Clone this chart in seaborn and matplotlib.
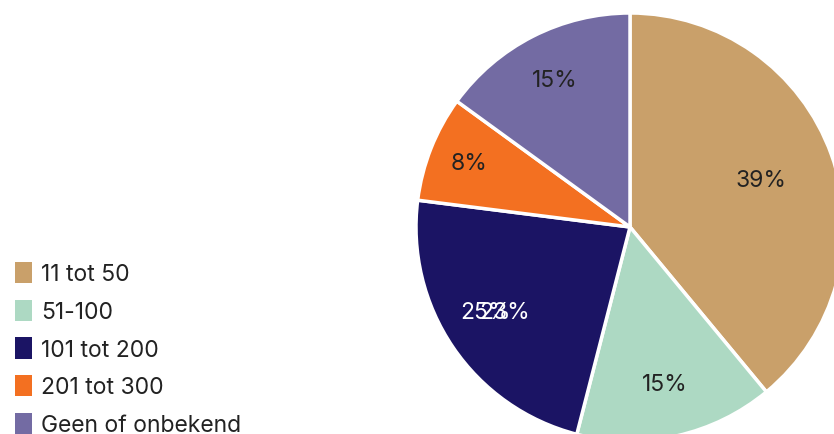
import matplotlib
matplotlib.use("Agg")
import matplotlib.pyplot as plt
import seaborn as sns
import numpy as np

sns.set_style("white")
plt.rcParams["font.family"] = ["Inter", "DejaVu Sans"]

# --- DATA ---
categories = ["11 tot 50", "51-100", "101 tot 200", "201 tot 300", "Geen of onbekend"]
shares = [39, 15, 23, 8, 15]
pct_labels = ["39%", "15%", "23%", "8%", "15%"]
extra_label = "25%"  # stray overlapping label in the navy slice

palette = sns.color_palette(["#C9A06A", "#ADD9C3", "#1B1464", "#F37021", "#736BA3"])
text_colors = ["#222222", "#222222", "white", "#222222", "#222222"]
label_dist = [0.65, 0.75, 0.71, 0.81, 0.77]

FS = 16.5

# --- PLOT ---
fig = plt.figure(figsize=(8.34, 4.35), dpi=100)
ax = fig.add_axes([0, 0, 1, 1])

wedges, _ = ax.pie(shares, colors=palette, startangle=90, counterclock=False,
                   wedgeprops=dict(edgecolor="white", linewidth=2.5))

for w, lab, col, d in zip(wedges, pct_labels, text_colors, label_dist):
    mid = np.deg2rad((w.theta1 + w.theta2) / 2)
    x, y = d * np.cos(mid), d * np.sin(mid)
    ax.text(x, y, lab, ha="center", va="center", fontsize=FS, color=col)
    if lab == "23%":
        ax.text(x - 0.088, y, extra_label, ha="center", va="center",
                fontsize=FS, color=col)

# pie centre at (630, 228) px, radius 214 px
scale = 214
ax.set_xlim(-630 / scale, (834 - 630) / scale)
ax.set_ylim(-(435 - 228) / scale, 228 / scale)
ax.set_aspect("auto")
ax.axis("off")

leg = fig.legend(wedges, categories, loc="upper left",
                 bbox_to_anchor=(15 / 834, 1 - 263 / 435), frameon=False,
                 fontsize=FS, handlelength=0.74, handleheight=1.05,
                 handletextpad=0.4, labelspacing=0.62, borderaxespad=0,
                 borderpad=0)
for t in leg.get_texts():
    t.set_color("#222222")
for h in leg.legend_handles:
    h.set_linewidth(0)

fig.savefig("out.png", dpi=100)
